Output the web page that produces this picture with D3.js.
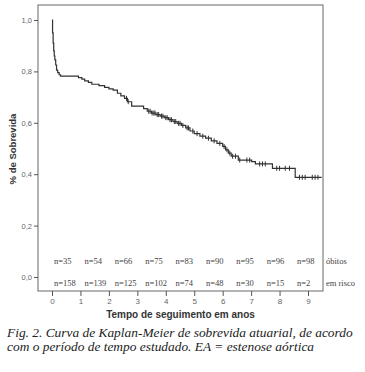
<!DOCTYPE html>
<html>
<head>
<meta charset="utf-8">
<script src="https://cdn.jsdelivr.net/npm/d3@7/dist/d3.min.js"></script>
<style>
  body { margin: 0; background: #fff; }
  svg { display: block; }
</style>
</head>
<body>
<svg id="km-chart"></svg>
<script>
// Kaplan-Meier step points (time in years, survival)
const eventTimes = [0, 0.02, 0.04, 0.06, 0.08, 0.1, 0.13, 0.16, 0.2, 0.25, 0.3, 0.93, 1.05, 1.15, 1.28, 1.4, 1.65, 1.85, 2.0, 2.15, 2.3, 2.42, 2.55, 2.65, 2.8, 3.22, 3.35, 3.5, 3.65, 3.8, 3.95, 4.1, 4.25, 4.4, 4.55, 4.7, 4.85, 5.0, 5.2, 5.4, 5.6, 5.8, 6.0, 6.1, 6.2, 6.3, 6.55, 7.02, 7.15, 7.75, 8.55, 9.48];
const survival = [1.0, 0.95, 0.91, 0.88, 0.86, 0.845, 0.825, 0.805, 0.795, 0.787, 0.782, 0.776, 0.77, 0.763, 0.757, 0.75, 0.745, 0.738, 0.732, 0.727, 0.715, 0.705, 0.695, 0.682, 0.665, 0.655, 0.645, 0.638, 0.632, 0.626, 0.62, 0.612, 0.605, 0.598, 0.59, 0.58, 0.568, 0.558, 0.548, 0.54, 0.53, 0.52, 0.508, 0.495, 0.482, 0.47, 0.455, 0.449, 0.44, 0.423, 0.388, 0.388];
const censorTimes = [2.62, 2.68, 3.4, 3.45, 3.52, 3.58, 3.62, 3.7, 3.75, 3.85, 3.9, 4.0, 4.05, 4.15, 4.2, 4.3, 4.35, 4.45, 4.5, 4.6, 4.75, 4.8, 4.95, 5.1, 5.3, 5.5, 5.7, 5.9, 6.05, 6.15, 6.25, 6.35, 6.45, 6.6, 6.85, 6.95, 7.3, 7.4, 7.5, 7.9, 8.0, 8.2, 8.35, 8.7, 8.8, 8.9, 9.15, 9.25, 9.35];

const obitos = ['n=35', 'n=54', 'n=66', 'n=75', 'n=83', 'n=90', 'n=95', 'n=96', 'n=98'];
const emRisco = ['n=158', 'n=139', 'n=125', 'n=102', 'n=74', 'n=48', 'n=30', 'n=15', 'n=2'];

const yTicks = [0, 0.2, 0.4, 0.6, 0.8, 1.0];
const xTicks = [0, 1, 2, 3, 4, 5, 6, 7, 8, 9];

const width = 365;
const height = 372;
const frame = { left: 38, top: 5, right: 323, bottom: 291 };

const svg = d3.select('#km-chart')
  .attr('width', width)
  .attr('height', height);

const x = d3.scaleLinear().domain([0, 9]).range([52, 308]);
const y = d3.scaleLinear().domain([0, 1]).range([277, 20]);

// frame
svg.append('rect')
  .attr('x', frame.left)
  .attr('y', frame.top)
  .attr('width', frame.right - frame.left)
  .attr('height', frame.bottom - frame.top)
  .attr('fill', 'none')
  .attr('stroke', '#8a8a8a')
  .attr('stroke-width', 1.3);

// y axis
const yAxis = d3.axisLeft(y)
  .tickValues(yTicks)
  .tickSize(4)
  .tickPadding(2)
  .tickFormat(d => d3.format('.1f')(d).replace('.', ','));

svg.append('g')
  .attr('transform', 'translate(' + frame.left + ',0)')
  .call(yAxis)
  .call(g => {
    g.select('.domain').remove();
    g.selectAll('.tick line').attr('stroke', '#555');
    g.selectAll('.tick text')
      .attr('fill', '#666')
      .style('font-family', 'Liberation Sans, Arial, sans-serif')
      .style('font-size', '7.5px');
  });

// x axis
const xAxis = d3.axisBottom(x)
  .tickValues(xTicks)
  .tickSize(5)
  .tickPadding(2)
  .tickFormat(d3.format('d'));

svg.append('g')
  .attr('transform', 'translate(0,' + frame.bottom + ')')
  .call(xAxis)
  .call(g => {
    g.select('.domain').remove();
    g.selectAll('.tick line').attr('stroke', '#555');
    g.selectAll('.tick text')
      .attr('fill', '#666')
      .style('font-family', 'Liberation Sans, Arial, sans-serif')
      .style('font-size', '8px');
  });

// axis titles
svg.append('text')
  .attr('x', (frame.left + frame.right) / 2)
  .attr('y', 318)
  .attr('text-anchor', 'middle')
  .style('font-family', 'Liberation Sans, Arial, sans-serif')
  .style('font-weight', 'bold')
  .style('font-size', '10px')
  .attr('fill', '#333')
  .text('Tempo de seguimento em anos');

svg.append('text')
  .attr('transform', 'translate(16,149) rotate(-90)')
  .attr('text-anchor', 'middle')
  .style('font-family', 'Liberation Sans, Arial, sans-serif')
  .style('font-weight', 'bold')
  .style('font-size', '9.5px')
  .attr('fill', '#333')
  .text('% de Sobrevida');

// survival curve
const points = eventTimes.map((t, i) => [t, survival[i]]);
const line = d3.line()
  .x(d => x(d[0]))
  .y(d => y(d[1]))
  .curve(d3.curveStepAfter);

svg.append('path')
  .datum(points)
  .attr('d', line)
  .attr('fill', 'none')
  .attr('stroke', '#333')
  .attr('stroke-width', 1.2);

// censor marks
const survAt = t => {
  let s = survival[0];
  for (let i = 0; i < eventTimes.length; i++) {
    if (eventTimes[i] <= t) s = survival[i];
  }
  return s;
};

svg.append('g')
  .selectAll('line')
  .data(censorTimes)
  .enter().append('line')
  .attr('x1', d => x(d))
  .attr('x2', d => x(d))
  .attr('y1', d => y(survAt(d)) - 2.5)
  .attr('y2', d => y(survAt(d)) + 2.5)
  .attr('stroke', '#333')
  .attr('stroke-width', 1);

// number labels
const nx = d3.scalePoint().domain(d3.range(obitos.length)).range([54, 297]);

const nText = (arr, yy) => svg.append('g')
  .selectAll('text')
  .data(arr)
  .enter().append('text')
  .attr('x', (d, i) => nx(i))
  .attr('y', yy)
  .style('font-family', 'Liberation Serif, Times New Roman, serif')
  .style('font-size', '8.5px')
  .attr('fill', '#444')
  .text(d => d);

nText(obitos, 264);
nText(emRisco, 286);

svg.append('text')
  .attr('x', 326).attr('y', 264)
  .style('font-family', 'Liberation Serif, Times New Roman, serif')
  .style('font-size', '8.5px')
  .attr('fill', '#444')
  .text('óbitos');

svg.append('text')
  .attr('x', 326).attr('y', 286)
  .style('font-family', 'Liberation Serif, Times New Roman, serif')
  .style('font-size', '8.5px')
  .attr('fill', '#444')
  .text('em risco');

// caption
const caption = svg.append('text')
  .style('font-family', 'Liberation Serif, Times New Roman, serif')
  .style('font-style', 'italic')
  .style('font-size', '13.4px')
  .attr('fill', '#222');

caption.append('tspan').attr('x', 7).attr('y', 337)
  .text('Fig. 2. Curva de Kaplan-Meier de sobrevida atuarial, de acordo');
caption.append('tspan').attr('x', 7).attr('y', 351)
  .text('com o período de tempo estudado. EA = estenose aórtica');
</script>
</body>
</html>
